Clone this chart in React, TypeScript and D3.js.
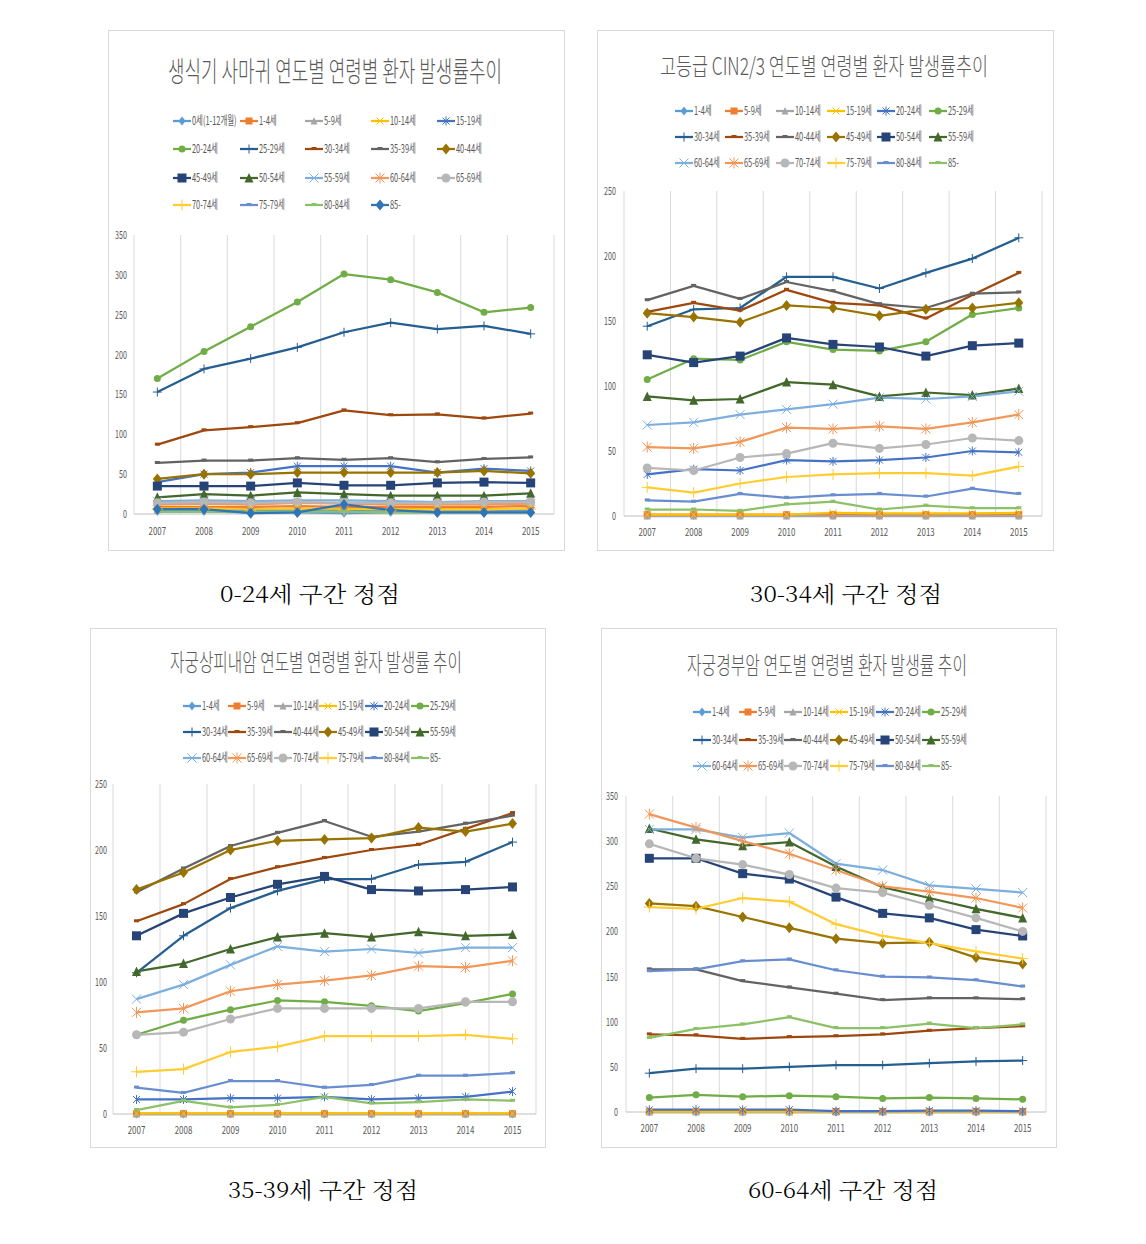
import React from "react";
import * as d3 from "d3";

const years = ["2007", "2008", "2009", "2010", "2011", "2012", "2013", "2014", "2015"];

const wartAges = ["0세(1-12개월)", "1-4세", "5-9세", "10-14세", "15-19세", "20-24세", "25-29세", "30-34세", "35-39세", "40-44세", "45-49세", "50-54세", "55-59세", "60-64세", "65-69세", "70-74세", "75-79세", "80-84세", "85-"];
const ages = ["1-4세", "5-9세", "10-14세", "15-19세", "20-24세", "25-29세", "30-34세", "35-39세", "40-44세", "45-49세", "50-54세", "55-59세", "60-64세", "65-69세", "70-74세", "75-79세", "80-84세", "85-"];

const titles = [
  "생식기 사마귀 연도별 연령별 환자 발생률추이",
  "고등급 CIN2/3 연도별 연령별 환자 발생률추이",
  "자궁상피내암 연도별 연령별 환자 발생률 추이",
  "자궁경부암 연도별 연령별 환자 발생률 추이",
];
const captions = ["0-24세 구간 정점", "30-34세 구간 정점", "35-39세 구간 정점", "60-64세 구간 정점"];

// 생식기 사마귀 (order = wartAges)
const wartRates: number[][] = [
  [3, 3, 2, 2, 1, 2, 2, 2, 2],
  [9, 9, 9, 10, 9, 9, 9, 9, 10],
  [5, 6, 6, 6, 6, 5, 5, 5, 6],
  [7, 7, 6, 7, 6, 6, 6, 6, 7],
  [40, 50, 52, 60, 60, 60, 52, 57, 54],
  [170, 204, 235, 266, 301, 294, 278, 253, 259],
  [153, 182, 195, 209, 228, 240, 232, 236, 226],
  [87, 105, 109, 114, 130, 124, 125, 120, 126],
  [64, 67, 67, 70, 68, 70, 65, 69, 71],
  [44, 50, 50, 52, 52, 52, 52, 54, 51],
  [35, 35, 35, 39, 36, 36, 39, 40, 39],
  [21, 25, 23, 27, 25, 23, 23, 23, 26],
  [16, 17, 16, 17, 17, 16, 15, 16, 16],
  [12, 13, 12, 14, 13, 12, 12, 12, 13],
  [14, 15, 14, 15, 14, 14, 14, 15, 15],
  [6, 6, 5, 6, 5, 4, 5, 5, 6],
  [4, 4, 4, 4, 4, 3, 3, 3, 4],
  [3, 3, 3, 3, 3, 2, 2, 2, 2],
  [6, 6, 1, 2, 12, 5, 2, 2, 2],
];

// 고등급 CIN2/3 (order = ages)
const cinRates: number[][] = [
  [0.5, 0.5, 0.5, 0.5, 0.5, 0.5, 0.5, 0.5, 0.5],
  [1, 1, 1, 1, 1, 1, 1, 1, 1],
  [0, 0, 0, 0, 0, 0, 0, 0, 0],
  [1, 1, 1, 1, 2.5, 2, 2, 2, 2.5],
  [32, 36, 35, 43, 42, 43, 45, 50, 49],
  [105, 121, 120, 134, 128, 127, 134, 155, 160],
  [146, 159, 160, 184, 184, 175, 187, 198, 214],
  [157, 164, 158, 174, 164, 162, 152, 170, 187],
  [166, 177, 167, 180, 173, 163, 160, 171, 172],
  [156, 153, 149, 162, 160, 154, 159, 160, 164],
  [124, 118, 123, 137, 132, 130, 123, 131, 133],
  [92, 89, 90, 103, 101, 92, 95, 93, 98],
  [70, 72, 78, 82, 86, 91, 90, 92, 96],
  [53, 52, 57, 68, 67, 69, 67, 72, 78],
  [37, 35, 45, 48, 56, 52, 55, 60, 58],
  [22, 18, 25, 30, 32, 33, 33, 31, 38],
  [12, 11, 17, 14, 16, 17, 15, 21, 17],
  [5, 5, 4, 9, 11, 5, 8, 6, 6],
];

// 자궁상피내암 (order = ages)
const cisRates: number[][] = [
  [0, 0, 0, 0, 0, 0, 0, 0, 0],
  [0.3, 0.3, 0.3, 0.3, 0.3, 0.3, 0.3, 0.3, 0.3],
  [0, 0, 0, 0, 0, 0, 0, 0, 0],
  [0.5, 0.5, 0.5, 0.5, 0.5, 0.5, 0.5, 0.5, 0.5],
  [11, 11, 12, 12, 13, 11, 12, 13, 17],
  [60, 71, 79, 86, 85, 82, 78, 84, 91],
  [107, 135, 156, 169, 178, 178, 189, 191, 206],
  [146, 159, 178, 187, 194, 200, 204, 216, 228],
  [168, 186, 203, 213, 222, 210, 214, 220, 226],
  [170, 183, 200, 207, 208, 209, 217, 214, 220],
  [135, 152, 164, 174, 180, 170, 169, 170, 172],
  [108, 114, 125, 134, 137, 134, 138, 135, 136],
  [87, 98, 113, 127, 123, 125, 122, 126, 126],
  [77, 80, 93, 98, 101, 105, 112, 111, 116],
  [60, 62, 72, 80, 80, 80, 80, 85, 85],
  [32, 34, 47, 51, 59, 59, 59, 60, 57],
  [20, 16, 25, 25, 20, 22, 29, 29, 31],
  [3, 10, 5, 7, 13, 8, 9, 11, 10],
];

// 자궁경부암 (order = ages)
const cancerRates: number[][] = [
  [0, 0, 0, 0, 0, 0, 0, 0, 0],
  [0.5, 0.5, 0.5, 0.5, 0.5, 0.5, 0.5, 0.5, 0.5],
  [0, 0, 0, 0, 0, 0, 0, 0, 0],
  [0.5, 0.5, 0.5, 0.5, 0.5, 0.5, 0.5, 0.5, 0.5],
  [2.5, 2.5, 2.5, 2.5, 1, 1, 1.5, 1.5, 1],
  [16, 19, 17, 18, 17, 15, 16, 15, 14],
  [43, 48, 48, 50, 52, 52, 54, 56, 57],
  [86, 85, 81, 83, 84, 86, 90, 93, 95],
  [158, 158, 145, 138, 131, 124, 126, 126, 125],
  [231, 228, 216, 204, 192, 187, 188, 171, 164],
  [281, 281, 264, 258, 238, 220, 215, 202, 195],
  [314, 302, 295, 299, 272, 249, 237, 225, 215],
  [313, 313, 304, 309, 275, 268, 251, 247, 243],
  [330, 315, 300, 286, 268, 250, 244, 237, 226],
  [297, 281, 274, 263, 248, 243, 229, 215, 200],
  [227, 225, 237, 233, 208, 195, 187, 178, 170],
  [156, 158, 167, 169, 157, 150, 149, 146, 139],
  [82, 92, 97, 105, 93, 93, 98, 93, 97],
];

const palette = ["#5B9BD5", "#ED7D31", "#A5A5A5", "#FFC000", "#4472C4", "#70AD47", "#255E91", "#9E480E", "#636363", "#997300", "#264478", "#43682B", "#7CAFDD", "#F1975A", "#B7B7B7", "#FFCD33", "#698ED0", "#8CC168", "#2E75B6"];
const markerCycle = ["diamond", "square", "triangle", "x", "star", "circle", "plus", "dash", "dash"];

type PanelCfg = {
  box: { x: number; y: number; w: number; h: number };
  plot: { left: number; right: number; top: number; bottom: number };
  yMax: number;
  title: string;
  titleCx: number;
  titleY: number;
  titleLen: number;
  titleSize: number;
  labels: string[];
  values: number[][];
  legendCols: number[];
  legendRows: number[];
  xLabelY: number;
  tickRight: number;
  caption: string;
  captionCx: number;
  captionY: number;
  captionLen: number;
};

const panels: PanelCfg[] = [
  {
    box: { x: 108, y: 30, w: 456, h: 520 },
    plot: { left: 134, right: 554, top: 235, bottom: 514 },
    yMax: 350, title: titles[0], titleCx: 335, titleY: 82, titleLen: 334, titleSize: 28,
    labels: wartAges, values: wartRates,
    legendCols: [173, 240, 305, 371, 437], legendRows: [121, 149, 178, 205],
    xLabelY: 535, tickRight: 127,
    caption: captions[0], captionCx: 310, captionY: 602, captionLen: 180,
  },
  {
    box: { x: 597, y: 30, w: 456, h: 520 },
    plot: { left: 624, right: 1042, top: 191, bottom: 516 },
    yMax: 250, title: titles[1], titleCx: 824, titleY: 75, titleLen: 328, titleSize: 24,
    labels: ages, values: cinRates,
    legendCols: [675, 725, 776, 827, 877, 929], legendRows: [111, 137, 163],
    xLabelY: 536, tickRight: 616,
    caption: captions[1], captionCx: 846, captionY: 602, captionLen: 192,
  },
  {
    box: { x: 90, y: 628, w: 455, h: 519 },
    plot: { left: 113, right: 536, top: 784, bottom: 1114 },
    yMax: 250, title: titles[2], titleCx: 316, titleY: 671, titleLen: 292, titleSize: 24,
    labels: ages, values: cisRates,
    legendCols: [183, 228, 274, 319, 365, 411], legendRows: [706, 732, 758],
    xLabelY: 1134, tickRight: 107,
    caption: captions[2], captionCx: 323, captionY: 1198, captionLen: 190,
  },
  {
    box: { x: 601, y: 628, w: 455, h: 519 },
    plot: { left: 626, right: 1046, top: 796, bottom: 1112 },
    yMax: 350, title: titles[3], titleCx: 827, titleY: 674, titleLen: 280, titleSize: 24,
    labels: ages, values: cancerRates,
    legendCols: [693, 739, 784, 830, 876, 922], legendRows: [712, 740, 766],
    xLabelY: 1132, tickRight: 618,
    caption: captions[3], captionCx: 843, captionY: 1198, captionLen: 190,
  },
];

const FONT = "'Noto Sans CJK KR', 'Noto Sans', sans-serif";

function Marker({ type, x, y, color, big }: { type: string; x: number; y: number; color: string; big: boolean }) {
  const s = big ? 4.5 : 3.5;
  switch (type) {
    case "diamond":
      return <polygon points={`${x},${y - s - 1} ${x + s},${y} ${x},${y + s + 1} ${x - s},${y}`} fill={color} />;
    case "square":
      return <rect x={x - s} y={y - s} width={2 * s} height={2 * s} fill={color} />;
    case "triangle":
      return <polygon points={`${x},${y - s - 0.5} ${x + s},${y + s} ${x - s},${y + s}`} fill={color} />;
    case "x":
      return (
        <g stroke={color} strokeWidth={1}>
          <line x1={x - s} y1={y - s} x2={x + s} y2={y + s} />
          <line x1={x - s} y1={y + s} x2={x + s} y2={y - s} />
        </g>
      );
    case "star":
      return (
        <g stroke={color} strokeWidth={1}>
          <line x1={x - s} y1={y - s} x2={x + s} y2={y + s} />
          <line x1={x - s} y1={y + s} x2={x + s} y2={y - s} />
          <line x1={x} y1={y - s - 1} x2={x} y2={y + s + 1} />
        </g>
      );
    case "circle":
      return <circle cx={x} cy={y} r={s} fill={color} />;
    case "plus":
      return (
        <g stroke={color} strokeWidth={1}>
          <line x1={x - s - 1} y1={y} x2={x + s + 1} y2={y} />
          <line x1={x} y1={y - s - 1} x2={x} y2={y + s + 1} />
        </g>
      );
    case "dash":
      return <rect x={x - 2.5} y={y - 2} width={5} height={3} fill={color} />;
    default:
      return null;
  }
}

function SText({ x, y, sx, size, anchor, fill, children }: any) {
  return (
    <text
      transform={`translate(${x},${y}) scale(${sx},1)`}
      fontSize={size}
      textAnchor={anchor}
      fill={fill}
      fontFamily={FONT}
    >
      {children}
    </text>
  );
}

function Panel({ cfg }: { cfg: PanelCfg }) {
  const { plot } = cfg;
  const x = d3.scaleBand<string>().domain(years).range([plot.left, plot.right]);
  const y = d3.scaleLinear().domain([0, cfg.yMax]).range([plot.bottom, plot.top]);
  const ticks = d3.range(0, cfg.yMax + 1, 50);
  const cx = (yr: string) => (x(yr) as number) + x.bandwidth() / 2;
  const line = d3
    .line<number>()
    .x((_, i) => cx(years[i]))
    .y((v) => y(v));
  const gridXs = [...years.map((yr) => x(yr) as number), plot.right];
  const ncol = cfg.legendCols.length;

  return (
    <g>
      <rect x={cfg.box.x + 0.5} y={cfg.box.y + 0.5} width={cfg.box.w} height={cfg.box.h} fill="#fff" stroke="#d9d9d9" />
      <text
        x={cfg.titleCx}
        y={cfg.titleY}
        textAnchor="middle"
        fontSize={cfg.titleSize}
        fill="#595959"
        fontFamily={FONT}
        fontWeight={300}
        textLength={cfg.titleLen}
        lengthAdjust="spacingAndGlyphs"
      >
        {cfg.title}
      </text>
      {cfg.labels.map((lab, i) => {
        const lx = cfg.legendCols[i % ncol];
        const ly = cfg.legendRows[Math.floor(i / ncol)];
        const color = palette[i];
        const mk = markerCycle[i % markerCycle.length];
        return (
          <g key={lab}>
            <line x1={lx} x2={lx + 18} y1={ly} y2={ly} stroke={color} strokeWidth={2.25} />
            <Marker type={mk} x={lx + 9} y={ly} color={color} big={i >= 9} />
            <SText x={lx + 19} y={ly + 4} sx={0.62} size={12} anchor="start" fill="#595959">
              {lab}
            </SText>
          </g>
        );
      })}
      {gridXs.map((gx, i) => (
        <line key={i} x1={gx} x2={gx} y1={plot.top} y2={plot.bottom} stroke="#d9d9d9" strokeWidth={1} />
      ))}
      <line x1={plot.left} x2={plot.right} y1={plot.bottom} y2={plot.bottom} stroke="#bfbfbf" strokeWidth={1} />
      {ticks.map((t) => (
        <SText key={t} x={cfg.tickRight} y={y(t) + 4} sx={0.65} size={11} anchor="end" fill="#595959">
          {t}
        </SText>
      ))}
      {years.map((yr) => (
        <SText key={yr} x={cx(yr)} y={cfg.xLabelY} sx={0.72} size={11} anchor="middle" fill="#595959">
          {yr}
        </SText>
      ))}
      {cfg.values.map((vals, i) => (
        <path key={i} d={line(vals) || ""} fill="none" stroke={palette[i]} strokeWidth={2.25} strokeLinejoin="round" />
      ))}
      {cfg.values.map((vals, i) => (
        <g key={"m" + i}>
          {vals.map((v, j) => (
            <Marker key={j} type={markerCycle[i % markerCycle.length]} x={cx(years[j])} y={y(v)} color={palette[i]} big={i >= 9} />
          ))}
        </g>
      ))}
      <text
        x={cfg.captionCx}
        y={cfg.captionY}
        textAnchor="middle"
        fontSize={22}
        fill="#000"
        fontWeight={300}
        fontFamily="'Noto Serif CJK KR', 'Liberation Serif', 'Noto Sans CJK KR', serif"
        textLength={cfg.captionLen}
        lengthAdjust="spacingAndGlyphs"
      >
        {cfg.caption}
      </text>
    </g>
  );
}

export default function App() {
  return (
    <svg width={1146} height={1244} viewBox="0 0 1146 1244" style={{ position: "absolute", left: 0, top: 0, background: "#fff" }}>
      <rect width={1146} height={1244} fill="#fff" />
      {panels.map((p, i) => (
        <Panel key={i} cfg={p} />
      ))}
    </svg>
  );
}
